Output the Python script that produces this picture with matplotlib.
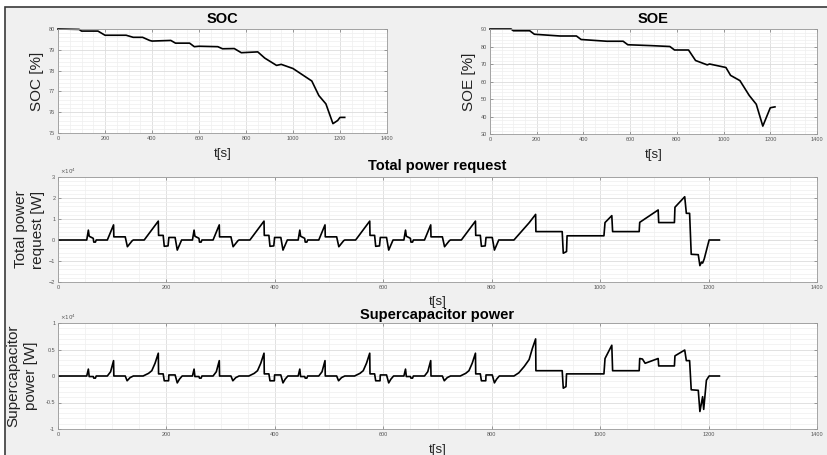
import numpy as np
import matplotlib
matplotlib.use('Agg')
import matplotlib.pyplot as plt
from matplotlib.ticker import AutoMinorLocator, MultipleLocator
from matplotlib.patches import Rectangle

plt.rcParams['font.family'] = ['Liberation Sans', 'DejaVu Sans']

# **** data ****

# battery state of charge [%]
soc_t = [0, 90, 100, 170, 185, 200, 290, 320, 360, 390, 400, 480, 500, 560, 580,
         600, 680, 700, 750, 780, 850, 880, 930, 950, 1000, 1040, 1080, 1110,
         1140, 1170, 1190, 1200, 1220]
soc_val = [80.0, 79.98, 79.9, 79.9, 79.8, 79.7, 79.7, 79.6, 79.6, 79.45, 79.42,
           79.45, 79.32, 79.32, 79.15, 79.17, 79.15, 79.05, 79.06, 78.86, 78.9,
           78.6, 78.25, 78.3, 78.1, 77.8, 77.5, 76.8, 76.4, 75.45, 75.6, 75.75,
           75.75]

# supercapacitor state of energy [%]
soe_t = [0, 90, 100, 170, 190, 300, 370, 390, 500, 570, 590, 690, 770, 790,
         850, 880, 930, 940, 1010, 1030, 1070, 1110, 1140, 1168, 1200, 1220]
soe_val = [90, 90, 89, 89, 87, 86, 86, 84, 83, 83, 81, 80.5, 80, 78, 78, 72,
           69.5, 70, 68, 63.5, 60.5, 52, 47, 34.5, 45, 45.5]

# total power request [x1e4 W]
ptot_t = [0,
          53, 56, 57.5, 65, 66, 69, 70.5, 91, 102.5, 103, 124, 128, 137, 139,
          159, 185, 185.5, 194, 196, 203, 204.5, 216, 220, 228,
          248, 251, 252.5, 260, 261, 264, 265.5, 286, 297.5, 298, 319, 323, 332, 334,
          354, 380, 380.5, 389, 391, 398, 399.5, 411, 415, 423,
          443, 446, 447.5, 455, 456, 459, 460.5, 481, 492.5, 493, 514, 518, 527, 529,
          549, 575, 575.5, 584, 586, 593, 594.5, 606, 610, 618,
          638, 641, 642.5, 650, 651, 654, 655.5, 676, 687.5, 688, 709, 713, 722, 724,
          744, 770, 770.5, 779, 781, 788, 789.5, 801, 805, 813,
          841, 869, 881, 881.5, 930, 932, 938, 939, 1007, 1009, 1021.5, 1023,
          1072, 1073, 1107, 1108, 1137, 1138, 1156, 1159, 1165, 1168, 1181,
          1184, 1187, 1189, 1192, 1201, 1220]
ptot_val = [0,
            0, 0.47, 0.18, 0.08, -0.1, -0.1, 0, 0, 0.72, 0.15, 0.15, -0.32, -0.03, 0,
            0, 0.9, 0.22, 0.22, -0.3, -0.28, 0.12, 0.12, -0.48, 0,
            0, 0.47, 0.18, 0.08, -0.1, -0.1, 0, 0, 0.72, 0.15, 0.15, -0.32, -0.03, 0,
            0, 0.9, 0.22, 0.22, -0.3, -0.28, 0.12, 0.12, -0.48, 0,
            0, 0.47, 0.18, 0.08, -0.1, -0.1, 0, 0, 0.72, 0.15, 0.15, -0.32, -0.03, 0,
            0, 0.9, 0.22, 0.22, -0.3, -0.28, 0.12, 0.12, -0.48, 0,
            0, 0.47, 0.18, 0.08, -0.1, -0.1, 0, 0, 0.72, 0.15, 0.15, -0.32, -0.03, 0,
            0, 0.9, 0.22, 0.22, -0.3, -0.28, 0.12, 0.12, -0.48, 0,
            0, 0.82, 1.22, 0.4, 0.4, -0.63, -0.55, 0.2, 0.2, 0.83, 1.16, 0.4,
            0.4, 0.84, 1.43, 0.83, 0.83, 1.56, 2.06, 1.27, 1.27, -0.68, -0.7,
            -1.22, -1.05, -1.1, -0.9, 0, 0]

# supercapacitor power [x1e4 W]
psc_t = [0,
         53, 56, 57.5, 65, 66, 69, 70.5, 91, 97, 102.5, 103, 124, 127.5, 133, 139,
         157, 167, 173, 179, 185, 185.5, 194, 196, 204, 204.5, 216, 220, 224, 229,
         248, 251, 252.5, 260, 261, 264, 265.5, 286, 292, 297.5, 298, 319, 322.5, 328, 334,
         352, 362, 368, 374, 380, 380.5, 389, 391, 399, 399.5, 411, 415, 419, 424,
         443, 446, 447.5, 455, 456, 459, 460.5, 481, 487, 492.5, 493, 514, 517.5, 523, 529,
         547, 557, 563, 569, 575, 575.5, 584, 586, 594, 594.5, 606, 610, 614, 619,
         638, 641, 642.5, 650, 651, 654, 655.5, 676, 682, 687.5, 688, 709, 712.5, 718, 724,
         742, 752, 758, 764, 770, 770.5, 779, 781, 789, 789.5, 801, 805, 809, 814,
         841, 850, 860, 869, 875, 881, 881.5, 930, 932, 937, 938, 1007, 1009,
         1021.5, 1023, 1072, 1073, 1078, 1083, 1107, 1108, 1137, 1138, 1156,
         1159, 1165, 1168, 1181, 1184, 1189, 1191, 1196, 1201, 1220]
psc_val = [0,
           0, 0.13, -0.01, -0.01, -0.04, -0.04, 0, 0, 0.08, 0.29, 0, 0, -0.09, -0.03, 0,
           0, 0.05, 0.1, 0.24, 0.43, 0.04, 0.04, -0.09, -0.09, 0.02, 0.02, -0.13, -0.06, 0,
           0, 0.13, -0.01, -0.01, -0.04, -0.04, 0, 0, 0.08, 0.29, 0, 0, -0.09, -0.03, 0,
           0, 0.05, 0.1, 0.24, 0.43, 0.04, 0.04, -0.09, -0.09, 0.02, 0.02, -0.13, -0.06, 0,
           0, 0.13, -0.01, -0.01, -0.04, -0.04, 0, 0, 0.08, 0.29, 0, 0, -0.09, -0.03, 0,
           0, 0.05, 0.1, 0.24, 0.43, 0.04, 0.04, -0.09, -0.09, 0.02, 0.02, -0.13, -0.06, 0,
           0, 0.13, -0.01, -0.01, -0.04, -0.04, 0, 0, 0.08, 0.29, 0, 0, -0.09, -0.03, 0,
           0, 0.05, 0.1, 0.24, 0.43, 0.04, 0.04, -0.09, -0.09, 0.02, 0.02, -0.13, -0.06, 0,
           0, 0.06, 0.18, 0.31, 0.52, 0.70, 0.1, 0.1, -0.23, -0.2, 0.04, 0.04, 0.33,
           0.58, 0.1, 0.1, 0.33, 0.32, 0.24, 0.33, 0.19, 0.19, 0.38, 0.49,
           0.29, 0.29, -0.26, -0.27, -0.67, -0.39, -0.63, -0.08, 0, 0]

# **** plot ****

W, H = 827, 455
fig = plt.figure(figsize=(W / 100, H / 100), dpi=100, facecolor='white')
# grey window panel, dark border only shows on top/left
fig.patches.append(Rectangle((4.5 / W, -0.2), 1.2, 1.2 - 7 / H, transform=fig.transFigure,
                             facecolor='#f0f0f0', edgecolor='#3a3a3a', lw=1.2, zorder=-10))


def box(l, t, r, b):
    # pixel box -> figure fraction
    return [l / W, 1 - b / H, (r - l) / W, (b - t) / H]


def style(ax, ylim, ystep, title, ylab, ylab_x, tpad=4.5):
    ax.set_facecolor('white')
    ax.set_xlim(0, 1400)
    ax.set_ylim(*ylim)
    ax.xaxis.set_major_locator(MultipleLocator(200))
    ax.yaxis.set_major_locator(MultipleLocator(ystep))
    ax.xaxis.set_minor_locator(AutoMinorLocator(4))
    ax.yaxis.set_minor_locator(AutoMinorLocator(5))
    ax.grid(True, which='major', color='#dcdcdc', lw=0.6)
    ax.grid(True, which='minor', color='#efefef', lw=0.5)
    ax.set_axisbelow(True)
    ax.tick_params(which='both', direction='in', top=True, right=True,
                   labelsize=4, colors='#777777', labelcolor='#555555', pad=2)
    ax.tick_params(which='major', length=2.5, width=0.5)
    ax.tick_params(which='minor', length=0)
    for s in ax.spines.values():
        s.set_color('#999999')
        s.set_linewidth(0.6)
    ax.set_title(title, fontsize=10.5, fontweight='bold', pad=tpad)
    ax.set_xlabel('t[s]', fontsize=9.5, color='#222222')
    ax.xaxis.set_label_coords(0.5, -0.145)
    ax.set_ylabel(ylab, fontsize=11, color='#222222', va='center', linespacing=1.3)
    ax.yaxis.set_label_coords(ylab_x, 0.5)


# SOC
ax1 = fig.add_axes(box(58, 29, 387, 133))
ax1.plot(soc_t, soc_val, color='black', lw=1.2, clip_on=False)
style(ax1, (75, 80), 1, 'SOC', 'SOC [%]', -0.064)

# SOE
ax2 = fig.add_axes(box(490, 29, 817, 134))
ax2.plot(soe_t, soe_val, color='black', lw=1.2, clip_on=False)
style(ax2, (30, 90), 10, 'SOE', 'SOE [%]', -0.064)

# total power request
ax3 = fig.add_axes(box(58, 177, 817, 282))
ax3.plot(ptot_t, ptot_val, color='black', lw=1.2)
style(ax3, (-2, 3), 1, 'Total power request', 'Total power\nrequest [W]', -0.038, tpad=5)
ax3.xaxis.set_label_coords(0.5, -0.13)
ax3.text(0.003, 1.01, r'$\times10^4$', transform=ax3.transAxes, fontsize=4,
         color='#555555', va='bottom', ha='left')

# supercapacitor power
ax4 = fig.add_axes(box(58, 323, 817, 429))
ax4.plot(psc_t, psc_val, color='black', lw=1.2)
style(ax4, (-1, 1), 0.5, 'Supercapacitor power', 'Supercapacitor\npower [W]', -0.047, tpad=3)
ax4.yaxis.set_major_formatter(plt.FuncFormatter(lambda v, p: f'{v:g}'))
ax4.text(0.003, 1.01, r'$\times10^4$', transform=ax4.transAxes, fontsize=4,
         color='#555555', va='bottom', ha='left')

fig.savefig('out.png', dpi=100, facecolor=fig.get_facecolor())
